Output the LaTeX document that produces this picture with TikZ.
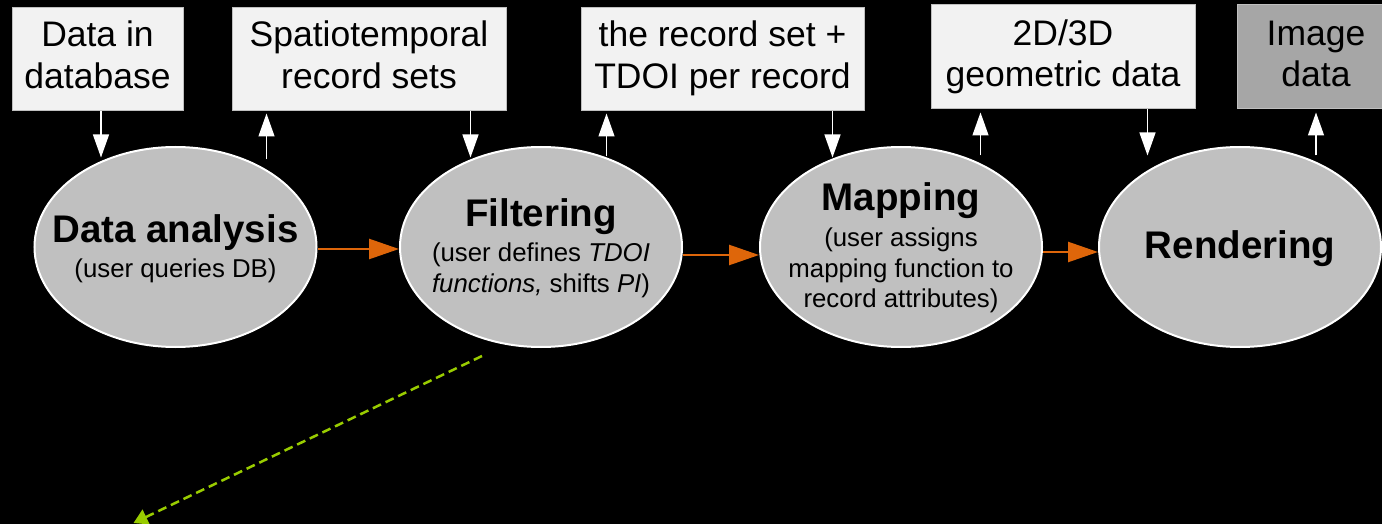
\documentclass[tikz,border=0pt]{standalone}
\usepackage{fontspec}
\setmainfont{Liberation Sans}
\usetikzlibrary{arrows.meta,calc,shapes.geometric}
\definecolor{boxfill}{HTML}{F2F2F2}
\definecolor{boxline}{HTML}{BFBFBF}
\definecolor{imgfill}{HTML}{A6A6A6}
\definecolor{procfill}{HTML}{C0C0C0}
\definecolor{flow}{RGB}{222,102,10}
\definecolor{hint}{HTML}{99CC00}
\begin{document}
\begin{tikzpicture}[x=1pt,y=-1pt,
  databox/.style={rectangle,draw=boxline,line width=1pt,fill=boxfill,inner sep=0pt},
  proc/.style={ellipse,draw=white,line width=2pt,fill=procfill,minimum width=282pt,minimum height=200pt,inner sep=0pt},
  btxt/.style={anchor=base,inner sep=0pt,font=\fontsize{35.5}{40}\selectfont},
  ttl/.style={anchor=base,inner sep=0pt,font=\fontsize{38.5}{44}\selectfont\bfseries},
  sub/.style={anchor=base,inner sep=0pt,font=\fontsize{25.8}{30}\selectfont},
  io/.style={draw=white,line width=1.3pt,-{Triangle[width=16pt,length=23pt]}},
  flowarrow/.style={draw=flow,line width=2.5pt,-{Triangle[width=20pt,length=30pt]}},
  hintarrow/.style={draw=hint,line width=2.5pt,dash pattern=on 9pt off 5pt,-{Triangle[width=16pt,length=14pt]}}
]
\clip (0,0) rectangle (1382,524);
\fill[black] (0,0) rectangle (1382,524);

% data boxes
\node[databox,minimum width=171pt,minimum height=103pt] (b1) at (97.5,59.5) {};
\node[databox,minimum width=274pt,minimum height=103pt] (b2) at (369,59.5) {};
\node[databox,minimum width=283pt,minimum height=103pt] (b3) at (722.5,59.5) {};
\node[databox,minimum width=264pt,minimum height=104pt] (b4) at (1063,57) {};
\node[databox,fill=imgfill,minimum width=158pt,minimum height=104pt] (b5) at (1316,57) {};

\node[btxt] (b1a) at (97.5,47) {Data in};
\node[btxt] (b1b) at (97.5,89) {database};
\node[btxt] (b2a) at (369,47) {Spatiotemporal};
\node[btxt] (b2b) at (369,89) {record sets};
\node[btxt] (b3a) at (722.5,47) {the record set +};
\node[btxt] (b3b) at (722.5,89) {TDOI per record};
\node[btxt] (b4a) at (1063,46) {2D/3D};
\node[btxt] (b4b) at (1063,87) {geometric data};
\node[btxt] (b5a) at (1316,46) {Image};
\node[btxt] (b5b) at (1316,87) {data};

% process ellipses
\node[proc] (e1) at (175.5,247) {};
\node[proc] (e2) at (541,247) {};
\node[proc] (e3) at (901,247) {};
\node[proc] (e4) at (1240,247) {};

\node[ttl] (e1t) at ($(e1.center)+(0,-5)$) {Data analysis};
\node[sub] (e1s) at ($(e1.center)+(0,30)$) {(user queries DB)};

\node[ttl] (e2t) at ($(e2.center)+(0,-21)$) {Filtering};
\node[sub] (e2s) at ($(e2.center)+(0,14)$) {(user defines \textit{TDOI}};
\node[sub] (e2u) at ($(e2.center)+(0,45)$) {\textit{functions,} shifts \textit{PI})};

\node[ttl] (e3t) at ($(e3.center)+(0,-36)$) {Mapping};
\node[sub] (e3s) at ($(e3.center)+(0,-1)$) {(user assigns};
\node[sub] (e3u) at ($(e3.center)+(0,30)$) {mapping function to};
\node[sub] (e3v) at ($(e3.center)+(0,60)$) {record attributes)};

\node[ttl] (e4t) at ($(e4.center)+(0,11)$) {Rendering};

% flow arrows
\draw[flowarrow] ($(e1.east)+(0,2)$) -- ($(e2.west)+(0,2)$);
\draw[flowarrow] ($(e2.east)+(0,8)$) -- ($(e3.west)+(0,8)$);
\draw[flowarrow] ($(e3.east)+(0,5)$) -- ($(e4.west)+(0,5)$);

% data in / out arrows
\draw[io] ($(b1.south)+(3.5,0)$) -- ++(0,46);
\draw[io] ($(b2.south west)+(35,48)$) -- ($(b2.south west)+(35,2)$);
\draw[io] ($(b2.south east)+(-36,0)$) -- ++(0,46);
\draw[io] ($(b3.south west)+(26,45)$) -- ($(b3.south west)+(26,2)$);
\draw[io] ($(b3.south east)+(-32,0)$) -- ++(0,46);
\draw[io] ($(b4.south west)+(50,46)$) -- ($(b4.south west)+(50,3)$);
\draw[io] ($(b4.south east)+(-48,0)$) -- ++(0,46);
\draw[io] ($(b5.south)+(0,46)$) -- ($(b5.south)+(0,3)$);

% dashed hint arrow
\coordinate (hs) at (482,356);
\coordinate (he) at (133.5,523);
\draw[hintarrow] (hs) -- (he);
\end{tikzpicture}
\end{document}
